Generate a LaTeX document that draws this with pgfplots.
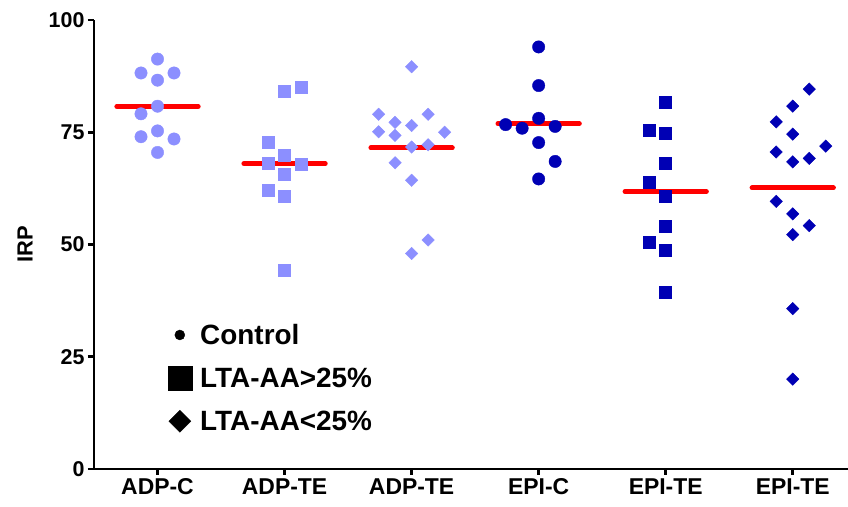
\documentclass[border=0pt]{standalone}
\usepackage{pgfplots}
\pgfplotsset{compat=1.18}
\usepackage{fontspec}
\setmainfont{Liberation Sans}
\definecolor{adp}{RGB}{140,143,255}
\definecolor{epi}{RGB}{0,0,180}
\begin{document}
\begin{tikzpicture}
\begin{axis}[name=ax, scale only axis, width=754bp, height=449bp,
  xmin=-0.5, xmax=5.435, ymin=0, ymax=100,
  axis x line=bottom, axis y line=left,
  axis line style={-, line width=2.6bp, black},
  xtick={0,1,2,3,4,5}, xticklabels={ADP-C,ADP-TE,ADP-TE,EPI-C,EPI-TE,EPI-TE},
  ytick={0,25,50,75,100}, yticklabels={0,25,50,75,100},
  tick align=outside, major tick length=6bp,
  tick style={line width=2.6bp, black},
  xticklabel style={font=\fontsize{23}{25}\selectfont\bfseries},
  yticklabel style={font=\fontsize{21.5}{23}\selectfont\bfseries},
  ylabel={IRP},
  ylabel style={font=\fontsize{22}{24}\selectfont\bfseries, at={(axis description cs:-0.0915,0.5)}, anchor=center},
  clip=false,
  legend cell align=left,
  legend image code/.code={\path[draw=none,fill=none] (0cm,0cm) (1.1cm,0cm); \draw[mark repeat=2,mark phase=2,#1] plot coordinates {(0cm,0cm) (0.45cm,0cm) (1.1cm,0cm)};},
  legend style={draw=none, fill=none, at={(axis cs:0.05,33.2)}, anchor=north west,
    font=\fontsize{28}{30}\selectfont\bfseries, row sep=18bp},
]
% ADP-C circles
\addplot[only marks, mark=*, mark size=6.2bp, color=adp, mark options={draw=adp, fill=adp}, forget plot] coordinates {
(0,91.3) (-0.13,88.2) (0.13,88.2) (0,86.6) (0,80.8) (-0.13,79.1) (-0.13,74.0) (0,75.3) (0.13,73.5) (0,70.5)};
% ADP-TE squares
\addplot[only marks, mark=square*, mark size=6bp, color=adp, mark options={draw=adp, fill=adp}, forget plot] coordinates {
(1,84.2) (1.13,85.0) (0.87,72.7) (1,69.8) (0.87,68.0) (1.13,67.8) (1,65.6) (0.87,62.0) (1,60.8) (1,44.3)};
% ADP-TE diamonds
\addplot[only marks, mark=square*, mark size=4.4bp, color=adp, mark options={draw=adp, fill=adp, rotate=45}, forget plot] coordinates {
(2,89.6) (1.74,79.0) (2.13,79.0) (1.87,77.2) (2,76.5) (1.74,75.1) (1.87,74.3) (2.26,75.0) (2,71.7) (2.13,72.2) (1.87,68.2) (2,64.3) (2.13,51.0) (2,48.0)};
% EPI-C circles
\addplot[only marks, mark=*, mark size=6.2bp, color=epi, mark options={draw=epi, fill=epi}, forget plot] coordinates {
(3,94.0) (3,85.4) (3,78.1) (2.74,76.7) (2.87,75.9) (3.13,76.3) (3,72.7) (3.13,68.5) (3,64.6)};
% EPI-TE squares
\addplot[only marks, mark=square*, mark size=6bp, color=epi, mark options={draw=epi, fill=epi}, forget plot] coordinates {
(4,81.6) (3.87,75.5) (4,74.8) (4,68.1) (3.87,63.9) (4,60.8) (4,54.1) (3.87,50.6) (4,48.8) (4,39.4)};
% EPI-TE diamonds
\addplot[only marks, mark=square*, mark size=4.4bp, color=epi, mark options={draw=epi, fill=epi, rotate=45}, forget plot] coordinates {
(5.13,84.6) (5,80.8) (4.87,77.3) (5,74.6) (4.87,70.6) (5.26,71.9) (5,68.4) (5.13,69.2) (4.87,59.6) (5,56.8) (5.13,54.2) (5,52.2) (5,35.7) (5,20.0)};
% mean lines
\addplot[red, line width=5bp, line cap=round, forget plot] coordinates {(-0.32,80.75) (0.32,80.75)};
\addplot[red, line width=5bp, line cap=round, forget plot] coordinates {(0.68,68.0) (1.32,68.0)};
\addplot[red, line width=5bp, line cap=round, forget plot] coordinates {(1.68,71.5) (2.32,71.5)};
\addplot[red, line width=5bp, line cap=round, forget plot] coordinates {(2.68,76.9) (3.32,76.9)};
\addplot[red, line width=5bp, line cap=round, forget plot] coordinates {(3.68,61.8) (4.32,61.8)};
\addplot[red, line width=5bp, line cap=round, forget plot] coordinates {(4.68,62.6) (5.32,62.6)};
% legend
\addlegendimage{only marks, mark=*, black, mark size=5bp}
\addlegendentry{Control}
\addlegendimage{only marks, mark=square*, black, mark size=12bp}
\addlegendentry{LTA-AA>25\%}
\addlegendimage{only marks, mark=square*, black, mark size=7.8bp, mark options={rotate=45}}
\addlegendentry{LTA-AA<25\%}
\end{axis}
\pgfresetboundingbox
\path[use as bounding box] ([shift={(-94bp,-38bp)}]ax.south west) rectangle ([shift={(0bp,20bp)}]ax.north east);
\end{tikzpicture}
\end{document}
